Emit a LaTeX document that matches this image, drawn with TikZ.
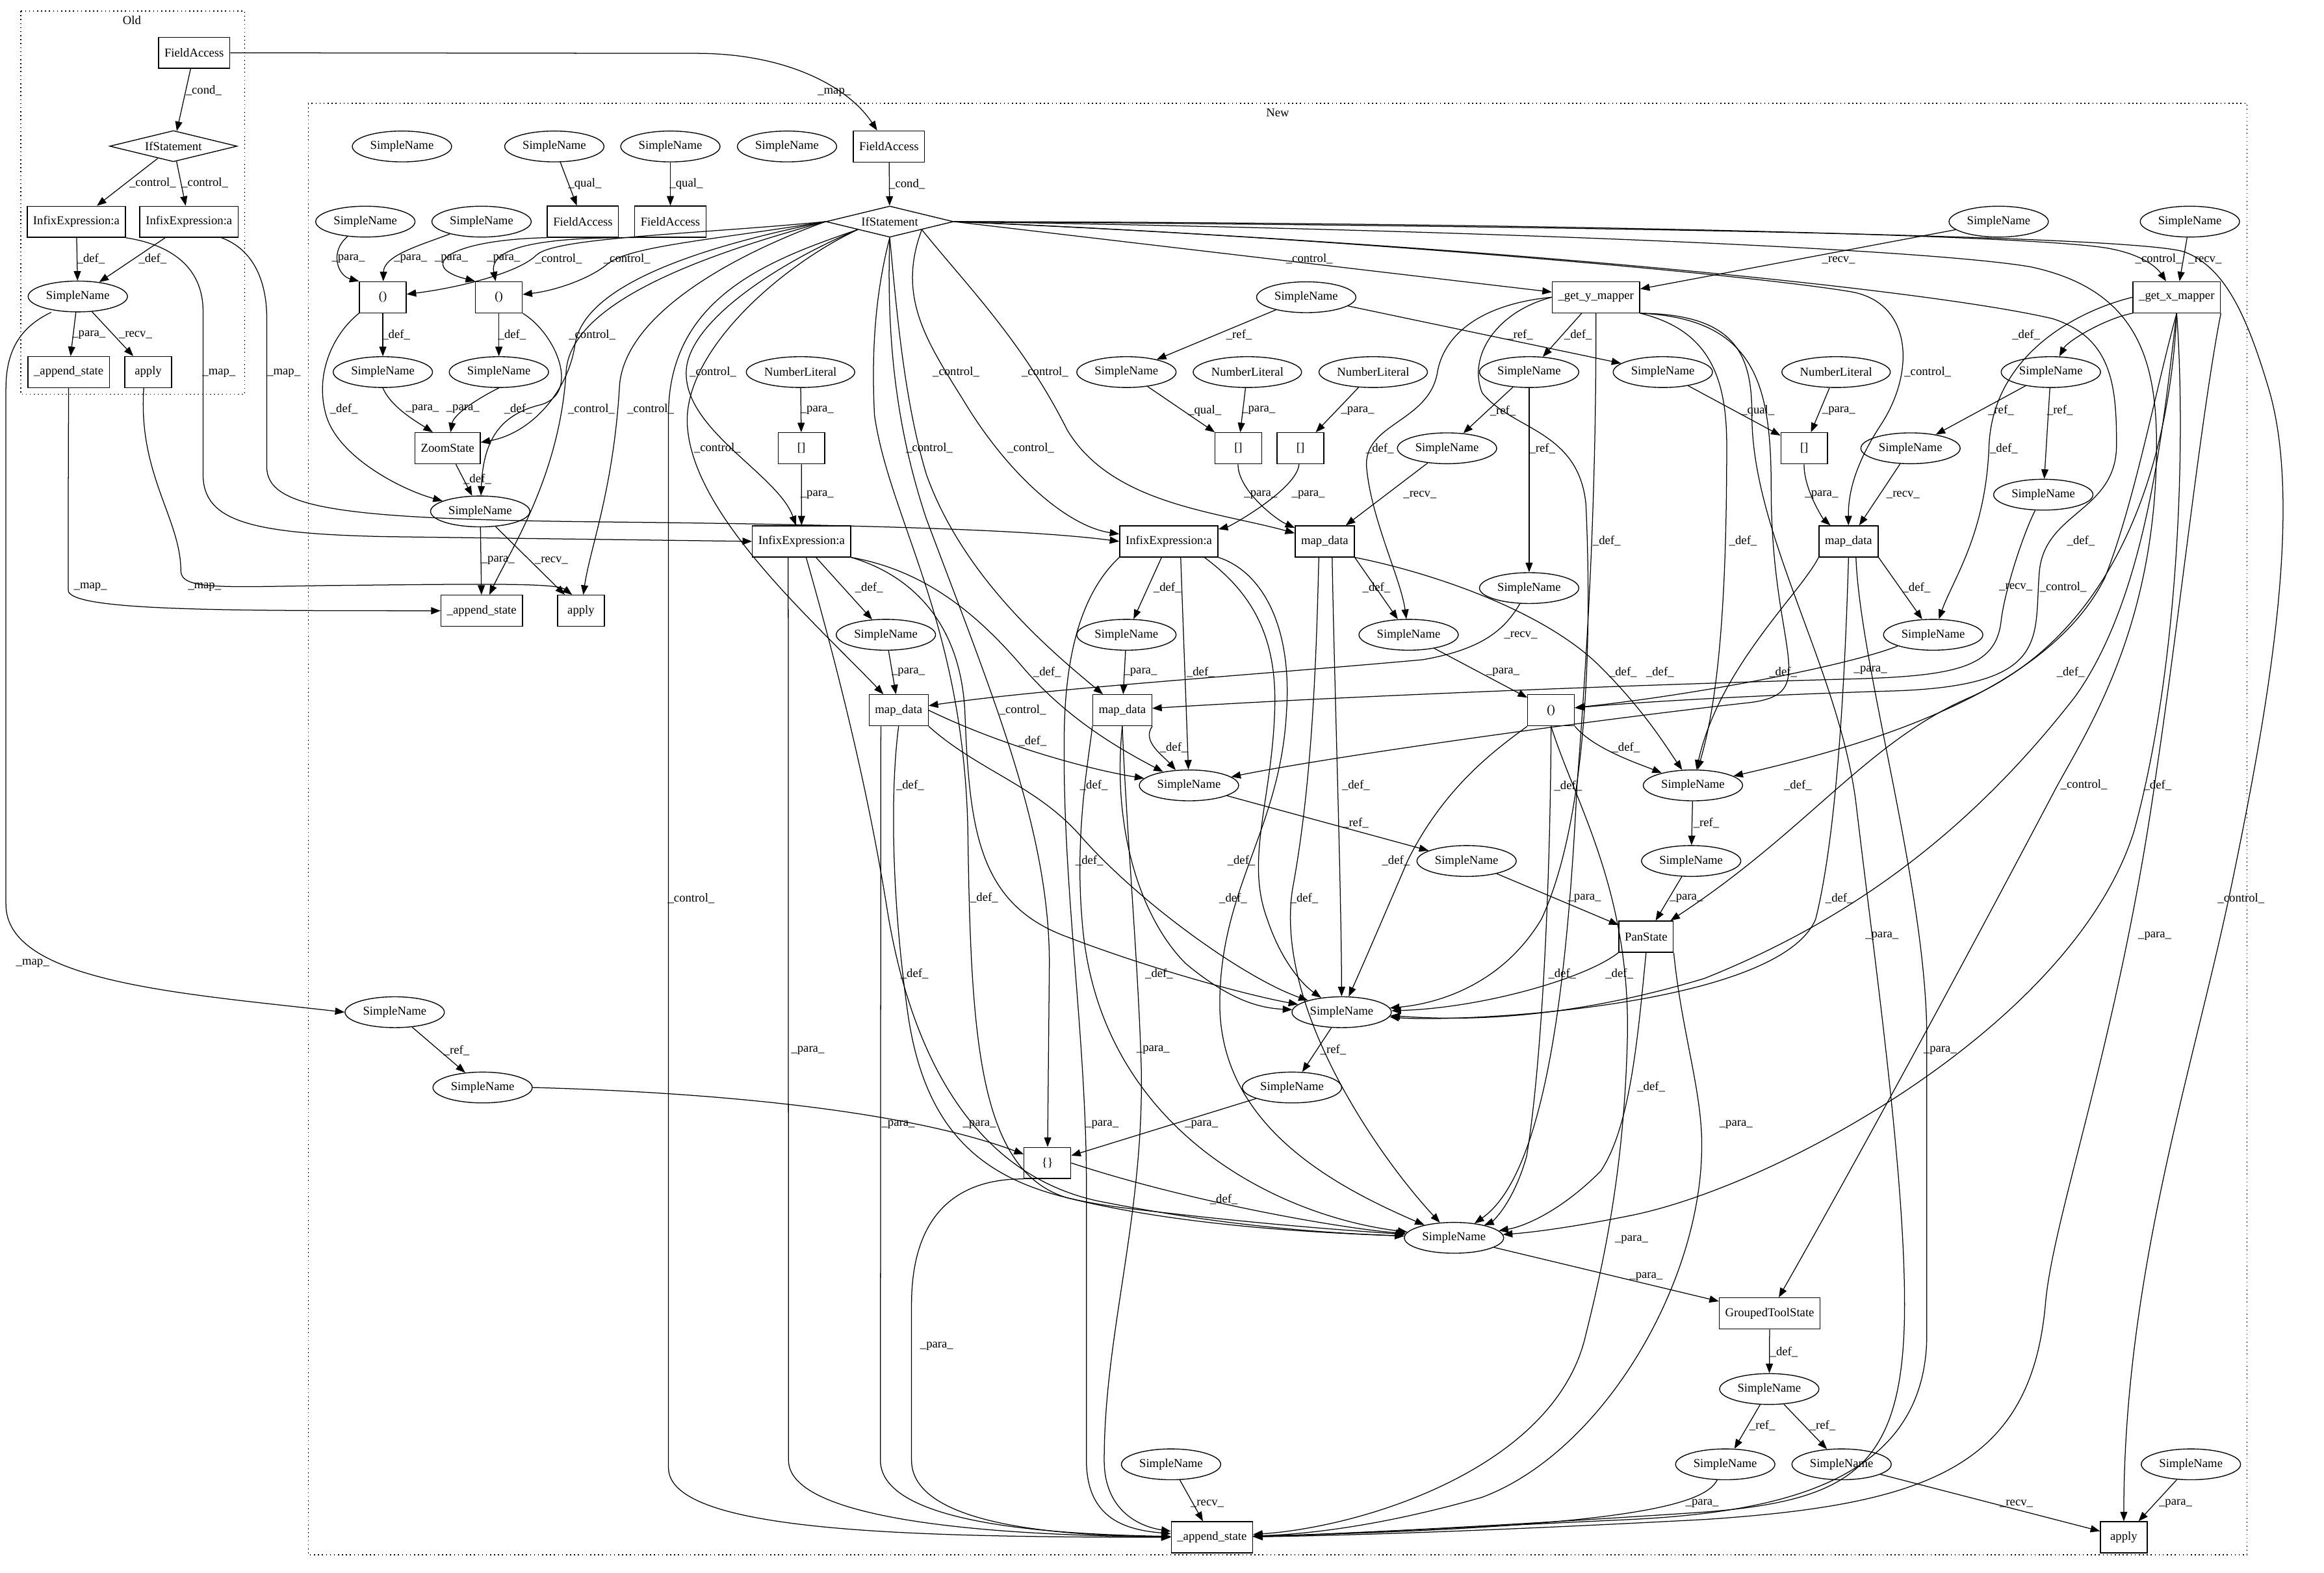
\documentclass[tikz,border=0pt]{standalone}
\usepackage{fontspec}
\setmainfont{Liberation Serif}
\usetikzlibrary{shapes.geometric,arrows.meta}
\begin{document}
\begin{tikzpicture}[x=1pt,y=-1pt,
  every node/.style={font=\fontsize{8.2}{9.5}\selectfont},
  sn/.style={ellipse,draw,line width=0.6pt,inner xsep=1.5pt,inner ysep=0pt,minimum width=67pt,minimum height=20.8pt},
  bx/.style={rectangle,draw,line width=0.6pt,inner xsep=4pt,inner ysep=0pt,minimum width=31.5pt,minimum height=21pt},
  dm/.style={diamond,draw,line width=0.6pt,aspect=4,inner sep=0pt,minimum width=86pt,minimum height=21pt},
  e/.style={draw,line width=0.55pt,-{Triangle[length=6.4pt,width=4.8pt]}},
  lbl/.style={inner sep=0pt},
  cl/.style={draw,dotted,line width=0.7pt}
]
\useasboundingbox (0,0) rectangle (1568,1061);
\fill[white] (0,0) rectangle (1568,1061);

% clusters
\draw[cl] (14,7.5) rectangle (165,266);
\node (tOld) at (89,13.5) {Old};
\draw[cl] (208,69.7) rectangle (1516,1048.7);
\node (tNew) at (862,76) {New};

% ---------------- Old nodes
\node[bx] (oFA) at (131,35.6) {FieldAccess};
\node[dm] (oIF) at (117,98.6) {IfStatement};
\node[bx] (oIL) at (51.5,149.6) {InfixExpression:a};
\node[bx] (oIR) at (127.5,149.6) {InfixExpression:a};
\node[sn] (oSN) at (52.5,200) {SimpleName};
\node[bx] (oAS) at (46.3,251) {\_append\_state};
\node[bx] (oAP) at (100,251) {apply};

% ---------------- New nodes
\node[sn] (nS1) at (271.2,98.8) {SimpleName};
\node[sn] (nS2) at (374,98.8) {SimpleName};
\node[sn] (nS3) at (452.3,98.8) {SimpleName};
\node[sn] (nS4) at (531,98.8) {SimpleName};
\node[bx] (nFA) at (599.8,98.8) {FieldAccess};

\node[dm] (nIF) at (600.3,149.5) {IfStatement};
\node[sn] (nP1) at (246.5,149.5) {SimpleName};
\node[sn] (nP2) at (324.9,149.5) {SimpleName};
\node[bx] (nFA1) at (393.3,149.5) {FieldAccess};
\node[bx] (nFA2) at (452.3,149.5) {FieldAccess};
\node[sn] (nRY) at (1348.5,149.5) {SimpleName};
\node[sn] (nRX) at (1477.5,149.5) {SimpleName};

\node[bx] (nC1) at (258.3,200.5) {()};
\node[bx] (nC2) at (336.6,200.5) {()};
\node[sn] (nR) at (881.3,200.5) {SimpleName};
\node[bx] (nGY) at (1076.8,200.5) {\_get\_y\_mapper};
\node[bx] (nGX) at (1468.6,200.5) {\_get\_x\_mapper};

\node[sn] (nD1) at (258.3,251) {SimpleName};
\node[sn] (nD2) at (336.6,251) {SimpleName};
\node[sn] (nNL1) at (540.1,251) {NumberLiteral};
\node[sn] (nQ1) at (760,251) {SimpleName};
\node[sn] (nNL2) at (841.6,251) {NumberLiteral};
\node[sn] (nNL3) at (926.5,251) {NumberLiteral};
\node[sn] (nY1) at (1031.7,251) {SimpleName};
\node[sn] (nQ2) at (1121.9,251) {SimpleName};
\node[sn] (nNL4) at (1238.8,251) {NumberLiteral};
\node[sn] (nX1) at (1383.7,251) {SimpleName};

\node[bx] (nZS) at (302,302.4) {ZoomState};
\node[bx] (nB1) at (540.7,302.4) {[]};
\node[bx] (nB2) at (835.5,302.4) {[]};
\node[bx] (nB3) at (877.4,302.4) {[]};
\node[sn] (nY2) at (976.3,302.4) {SimpleName};
\node[bx] (nB4) at (1217.3,302.4) {[]};
\node[sn] (nX2) at (1289,302.4) {SimpleName};

\node[sn] (nX3) at (1378.6,333.7) {SimpleName};
\node[sn] (nZ) at (324,345) {SimpleName};

\node[bx] (nIL) at (540.8,365.2) {InfixExpression:a};
\node[bx] (nIR) at (788.6,365.2) {InfixExpression:a};
\node[bx] (nMC) at (893.8,365.2) {map\_data};
\node[bx] (nMD) at (1247.2,365.2) {map\_data};

\node[sn] (nY3) at (1031.7,396.7) {SimpleName};
\node[bx] (nAS1) at (325,412) {\_append\_state};
\node[bx] (nAP1) at (392,412) {apply};

\node[sn] (nE1) at (597.7,428.2) {SimpleName};
\node[sn] (nE2) at (760,428.2) {SimpleName};
\node[sn] (nE3) at (950.4,428.2) {SimpleName};
\node[sn] (nE4) at (1304.3,428.2) {SimpleName};

\node[bx] (nMA) at (606.3,479.1) {map\_data};
\node[bx] (nMB) at (757.2,479.1) {map\_data};
\node[bx] (nPar) at (1046.5,479.1) {()};

\node[sn] (nC) at (802.2,529.8) {SimpleName};
\node[sn] (nD) at (1142.2,529.8) {SimpleName};
\node[sn] (nE) at (989.5,580.8) {SimpleName};
\node[sn] (nF) at (1141,580.8) {SimpleName};
\node[bx] (nPan) at (1110.6,631.8) {PanState};
\node[sn] (nJ) at (266.3,682.8) {SimpleName};
\node[sn] (nG) at (905.2,682.8) {SimpleName};
\node[sn] (nK) at (325.6,733.6) {SimpleName};
\node[sn] (nH) at (871.7,733.6) {SimpleName};
\node[bx] (nBr) at (706.7,784.5) {\{\}};
\node[sn] (nI) at (981,835) {SimpleName};
\node[bx] (nGT) at (1194,886) {GroupedToolState};
\node[sn] (nL) at (1193.7,937) {SimpleName};
\node[sn] (nO) at (790.1,987.8) {SimpleName};
\node[sn] (nM) at (1164,987.8) {SimpleName};
\node[sn] (nN) at (1242.5,987.8) {SimpleName};
\node[sn] (nP) at (1478.2,987.8) {SimpleName};
\node[bx] (nAS2) at (817.7,1037) {\_append\_state};
\node[bx] (nAP2) at (1432.9,1037) {apply};

% ================= Old edges
\draw[e] (oFA) -- (oIF) node[lbl] at (137.4,60.9) {\_cond\_};
\draw[e] (oIF) -- (oIL) node[lbl] at (103,123.5) {\_control\_};
\draw[e] (oIF) -- (oIR) node[lbl] at (138.2,123.5) {\_control\_};
\draw[e] (oIL) -- (oSN) node[lbl] at (61.4,174.5) {\_def\_};
\draw[e] (oIR) -- (oSN) node[lbl] at (103,174.5) {\_def\_};
\draw[e] (oSN) -- (oAS) node[lbl] at (60,225.9) {\_para\_};
\draw[e] (oSN) -- (oAP) node[lbl] at (91.4,225.9) {\_recv\_};

% map edges
\draw[e] (oFA.east) -- (470,36) .. controls (530,36) and (572,58) .. ([xshift=-8pt]nFA.north) node[lbl] at (562.9,62.1) {\_map\_};
\draw[e] (oIL.south east) .. controls (115,165) and (137,180) .. (137,210) -- (137,320) .. controls (137,352) and (170,360) .. (260,362) -- (nIL.west) node[lbl] at (147.7,251.5) {\_map\_};
\draw[e] ([xshift=22pt]oIR.south) .. controls (170,168) and (180,188) .. (180,215) -- (180,315) .. controls (180,343) and (230,350) .. (400,352) .. controls (600,354) and (700,358) .. (nIR.west) node[lbl] at (191.5,251.5) {\_map\_};
\draw[e] ([xshift=-18pt]oSN.south) .. controls (15,220) and (4,235) .. (4,262) -- (4,610) .. controls (4,662) and (120,670) .. (nJ.west) node[lbl] at (22,650) {\_map\_};
\draw[e] (oAS.south) .. controls (46,330) and (46,385) .. (46,398) .. controls (46,412) and (150,412) .. (nAS1.west) node[lbl] at (61,396) {\_map\_};
\draw[e] ([xshift=-3pt]oAP.south) .. controls (93,320) and (122,350) .. (122,385) .. controls (122,398) and (150,396) .. (220,395) .. controls (320,394) and (375,393) .. ([xshift=-6pt]nAP1.north) node[lbl] at (138,396) {\_map\_};

% ================= New edges: top left
\draw[e] (nS2) -- (nFA1) node[lbl] at (394.6,124.2) {\_qual\_};
\draw[e] (nS3) -- (nFA2) node[lbl] at (463,124.2) {\_qual\_};
\draw[e] (nFA) -- (nIF) node[lbl] at (612,124.2) {\_cond\_};
\draw[e] (nP1) .. controls (222,170) and (228,186) .. (nC1.north west) node[lbl] at (235,174.5) {\_para\_};
\draw[e] (nP2) .. controls (285,165) and (259,172) .. (nC1) node[lbl] at (277,174.5) {\_para\_};
\draw[e] (nFA1.south west) .. controls (300,162) and (282,180) .. (nC2.north west) node[lbl] at (304.5,174.5) {\_para\_};
\draw[e] (nFA2.south west) .. controls (360,160) and (330,168) .. (nC2) node[lbl] at (339.7,174.5) {\_para\_};
\draw[e] (nC1) -- (nD1) node[lbl] at (267.3,225.8) {\_def\_};
\draw[e] (nC2) -- (nD2) node[lbl] at (345.5,225.8) {\_def\_};
\draw[e] (nC1.south west) .. controls (225,225) and (212,252) .. (220,280) .. controls (228,308) and (270,330) .. (nZ) node[lbl] at (232,276) {\_def\_};
\draw[e] (nC2.south east) .. controls (375,225) and (392,265) .. (365,273) .. controls (335,280) and (326,300) .. (nZ) node[lbl] at (349.5,276) {\_def\_};
\draw[e] (nD1.south) .. controls (264,275) and (282,285) .. ([xshift=-10pt]nZS.north) node[lbl] at (284.9,276) {\_para\_};
\draw[e] (nD2.south) .. controls (320,270) and (306,280) .. ([xshift=2pt]nZS.north) node[lbl] at (312.3,276) {\_para\_};
\draw[e] (nZS) -- (nZ) node[lbl] at (322,323) {\_def\_};
\draw[e] (nZ) -- (nAS1) node[lbl] at (336,378) {\_para\_};
\draw[e] (nZ) -- (nAP1) node[lbl] at (372,378) {\_recv\_};

% IfStatement control edges
\draw[e] (nIF.west) .. controls (470,158) and (375,160) .. (362,172) .. controls (350,184) and (310,194) .. (nC1) node[lbl] at (376.9,174.5) {\_control\_};
\draw[e] (nIF.west) .. controls (480,162) and (425,166) .. (410,178) .. controls (398,188) and (375,196) .. (nC2) node[lbl] at (423,174.5) {\_control\_};
\draw[e] (nIF.west) .. controls (480,165) and (395,190) .. (388,232) .. controls (384,262) and (360,292) .. (nZS) node[lbl] at (399.5,226) {\_control\_};
\draw[e] (nIF.west) .. controls (490,168) and (386,200) .. (382,250) .. controls (378,320) and (345,370) .. (nAS1) node[lbl] at (399,276) {\_control\_};
\draw[e] (nIF.west) .. controls (500,170) and (422,210) .. (418,260) .. controls (414,330) and (398,370) .. (nAP1) node[lbl] at (439,276) {\_control\_};
\draw[e] (nIF.south west) .. controls (530,175) and (465,215) .. (463,250) .. controls (461,290) and (525,320) .. (nIL) node[lbl] at (481,251) {\_control\_};
\draw[e] (nIF.south west) .. controls (525,180) and (458,240) .. (464,290) .. controls (470,350) and (550,420) .. (nMA) node[lbl] at (484,302) {\_control\_};
\draw[e] (nIF.south west) .. controls (520,175) and (451,200) .. (451,280) -- (451,990) .. controls (451,1032) and (600,1037) .. (nAS2) node[lbl] at (466.3,606) {\_control\_};
\draw[e] (nIF.south) .. controls (590,200) and (588,240) .. (590,280) .. controls (600,350) and (650,420) .. (653,560) .. controls (655,700) and (660,790) .. (720,808) .. controls (800,828) and (900,832) .. (nI) node[lbl] at (627,302) {\_control\_};
\draw[e] (nIF.south) .. controls (598,230) and (605,290) .. (625,350) .. controls (670,470) and (708,560) .. (708,650) -- (nBr) node[lbl] at (690,479) {\_control\_};
\draw[e] (nIF.south) .. controls (605,210) and (610,270) .. (625,320) .. controls (650,390) and (710,440) .. (nMB) node[lbl] at (645,251) {\_control\_};
\draw[e] (nIF.south east) .. controls (605,200) and (625,230) .. (650,270) .. controls (680,320) and (720,355) .. (nIR) node[lbl] at (695.4,302.4) {\_control\_};
\draw[e] (nIF.south east) .. controls (650,190) and (690,230) .. (720,290) .. controls (750,340) and (820,345) .. (nMC) node[lbl] at (705,251) {\_control\_};
\draw[e] (nIF.east) -- (nGY) node[lbl] at (883.4,174.5) {\_control\_};
\draw[e] (nIF.east) .. controls (1000,150) and (1380,158) .. (1425,168) .. controls (1445,172) and (1455,180) .. (nGX) node[lbl] at (1456.4,174.5) {\_control\_};
\draw[e] (nIF.east) .. controls (900,160) and (1180,185) .. (1250,197) .. controls (1290,205) and (1292,250) .. (1270,285) .. controls (1250,315) and (1247,335) .. (nMD) node[lbl] at (1300.6,251) {\_control\_};
\draw[e] (nIF.east) .. controls (1000,165) and (1300,195) .. (1385,215) .. controls (1425,228) and (1428,260) .. (1428,300) .. controls (1428,345) and (1380,345) .. (1376,385) .. controls (1372,430) and (1385,462) .. (1280,466) .. controls (1180,469) and (1100,474) .. (nPar) node[lbl] at (1392,396) {\_control\_};
\draw[e] (nIF.east) .. controls (1000,155) and (1300,168) .. (1370,180) .. controls (1440,195) and (1455,240) .. (1455,300) .. controls (1455,420) and (1410,490) .. (1388,530) .. controls (1330,640) and (1260,770) .. (nGT) node[lbl] at (1406,529.5) {\_control\_};
\draw[e] (nIF.east) .. controls (1000,152) and (1440,158) .. (1474,170) .. controls (1500,180) and (1515,210) .. (1530,260) .. controls (1555,340) and (1530,480) .. (1505,600) .. controls (1480,720) and (1433,860) .. (nAP2) node[lbl] at (1512,606) {\_control\_};

% middle upper
\draw[e] (nRY) -- (nGY) node[lbl] at (1240.5,175.4) {\_recv\_};
\draw[e] (nRX) -- (nGX) node[lbl] at (1487.7,175.4) {\_recv\_};
\draw[e] (nR) -- (nQ1) node[lbl] at (836,225.8) {\_ref\_};
\draw[e] (nR) -- (nQ2) node[lbl] at (1025.6,225.8) {\_ref\_};
\draw[e] (nGY) -- (nY1) node[lbl] at (1064.7,225.8) {\_def\_};
\draw[e] (nGX.south west) .. controls (1420,215) and (1395,230) .. (nX1) node[lbl] at (1367,225.8) {\_def\_};
\draw[e] (nY1) -- (nY2) node[lbl] at (1014,277) {\_ref\_};
\draw[e] (nY1) -- (nY3) node[lbl] at (1040.6,302.4) {\_ref\_};
\draw[e] (nX1) -- (nX2) node[lbl] at (1350,276.9) {\_ref\_};
\draw[e] (nX1) -- (nX3) node[lbl] at (1389.8,276.9) {\_ref\_};
\draw[e] (nNL1) -- (nB1) node[lbl] at (551.3,276.9) {\_para\_};
\draw[e] (nB1) -- (nIL) node[lbl] at (551.3,333.7) {\_para\_};
\draw[e] (nQ1) -- (nB2) node[lbl] at (812.8,276.9) {\_qual\_};
\draw[e] (nNL2) -- (nB2) node[lbl] at (849.2,276.9) {\_para\_};
\draw[e] (nNL3) -- (nB3) node[lbl] at (916,277) {\_para\_};
\draw[e] (nQ2) -- (nB4) node[lbl] at (1186,277) {\_qual\_};
\draw[e] (nNL4) -- (nB4) node[lbl] at (1240.6,277) {\_para\_};
\draw[e] (nB2) .. controls (835,330) and (860,350) .. (nMC) node[lbl] at (850.6,333.7) {\_para\_};
\draw[e] (nB3) .. controls (875,330) and (830,355) .. (nIR) node[lbl] at (882.7,333.7) {\_para\_};
\draw[e] (nB4) .. controls (1217,330) and (1230,350) .. (nMD) node[lbl] at (1229,333.7) {\_para\_};
\draw[e] (nY2) -- (nMC) node[lbl] at (958,333.7) {\_recv\_};
\draw[e] (nX2) -- (nMD) node[lbl] at (1284,333.7) {\_recv\_};
\draw[e] (nY3) .. controls (1015,425) and (1000,438) .. (960,445) .. controls (850,455) and (700,465) .. (nMA) node[lbl] at (1026,428.6) {\_recv\_};
\draw[e] (nX3) .. controls (1365,360) and (1352,400) .. (1350,420) .. controls (1346,450) and (1320,456) .. (1250,458) .. controls (1100,462) and (900,470) .. (nMB) node[lbl] at (1360,396) {\_recv\_};

% defs from expression nodes
\draw[e] (nIL) -- (nE1) node[lbl] at (586.3,396.3) {\_def\_};
\draw[e] (nIR) -- (nE2) node[lbl] at (787.6,396.3) {\_def\_};
\draw[e] (nMC.south east) -- (nE3) node[lbl] at (928.7,396.3) {\_def\_};
\draw[e] (nMD.south east) -- (nE4) node[lbl] at (1293,396.3) {\_def\_};
\draw[e] (nE1) -- (nMA) node[lbl] at (612.8,453.4) {\_para\_};
\draw[e] (nE2) -- (nMB) node[lbl] at (769.5,453.4) {\_para\_};
\draw[e] (nE3) -- (nPar) node[lbl] at (1014,453.4) {\_para\_};
\draw[e] (nE4.south west) .. controls (1250,448) and (1150,468) .. (nPar) node[lbl] at (1262,452) {\_para\_};

\draw[e] (nGY.west) .. controls (1000,205) and (975,225) .. (970,250) .. controls (965,285) and (920,285) .. (922,315) .. controls (925,350) and (945,390) .. (nE3) node[lbl] at (931,302.4) {\_def\_};
\draw[e] (nGX.west) .. controls (1400,210) and (1345,240) .. (1342,300) .. controls (1340,360) and (1318,390) .. (nE4) node[lbl] at (1352,302.4) {\_def\_};

% nIL outgoing
\draw[e] (nIL.south east) .. controls (625,385) and (660,415) .. (690,450) .. controls (720,485) and (755,505) .. (nC) node[lbl] at (706.5,453.4) {\_def\_};
\draw[e] (nIL.south east) .. controls (615,388) and (648,420) .. (651,480) .. controls (654,560) and (660,610) .. (720,632) .. controls (780,655) and (845,672) .. (nG) node[lbl] at (664,605.6) {\_def\_};
\draw[e] (nIL) .. controls (565,450) and (585,530) .. (598,610) .. controls (612,700) and (650,790) .. (740,810) .. controls (830,828) and (900,832) .. (nI) node[lbl] at (617,657) {\_def\_};
\draw[e] ([xshift=-9pt]nIL.south) -- (532,985) .. controls (532,1030) and (700,1036) .. (nAS2) node[lbl] at (545,708.5) {\_para\_};

% nMA outgoing
\draw[e] (nMA.east) .. controls (680,505) and (740,520) .. (nC) node[lbl] at (696.7,500) {\_def\_};
\draw[e] (nMA.south east) .. controls (660,520) and (700,530) .. (730,565) .. controls (770,610) and (840,660) .. (nG) node[lbl] at (735,580.6) {\_def\_};
\draw[e] (nMA.south) .. controls (601,530) and (601,600) .. (612,680) .. controls (625,780) and (680,805) .. (760,815) .. controls (850,826) and (910,830) .. (nI) node[lbl] at (614,529.6) {\_def\_};
\draw[e] ([xshift=-12pt]nMA.south) -- (594,985) .. controls (594,1030) and (720,1035) .. (nAS2) node[lbl] at (606,758.8) {\_para\_};

% nIR outgoing
\draw[e] ([xshift=8pt]nIR.south) -- (nC) node[lbl] at (810,453.4) {\_def\_};
\draw[e] ([xshift=24pt]nIR.south) .. controls (845,400) and (862,430) .. (860,480) .. controls (858,540) and (840,580) .. (855,620) .. controls (865,650) and (880,665) .. (nG) node[lbl] at (837.5,580.6) {\_def\_};
\draw[e] (nIR.south east) .. controls (850,385) and (872,420) .. (868,480) .. controls (864,560) and (822,600) .. (823,680) .. controls (825,760) and (900,800) .. (nI) node[lbl] at (832,606) {\_def\_};
\draw[e] (nIR.south west) .. controls (735,395) and (718,430) .. (718,500) .. controls (717,600) and (733,700) .. (733,800) -- (733,985) .. controls (733,1025) and (760,1032) .. (nAS2) node[lbl] at (810.6,758.8) {\_para\_};

% nMB outgoing
\draw[e] (nMB.south east) .. controls (770,500) and (785,510) .. (nC) node[lbl] at (791.9,504.4) {\_def\_};
\draw[e] (nMB.south) .. controls (750,560) and (770,620) .. (800,650) .. controls (830,675) and (850,680) .. (nG) node[lbl] at (782,657) {\_def\_};
\draw[e] (nMB.south west) .. controls (735,510) and (725,560) .. (730,620) .. controls (740,760) and (860,820) .. (nI) node[lbl] at (738,529.7) {\_def\_};
\draw[e] (nMB.south) .. controls (760,560) and (768,650) .. (770,720) .. controls (772,820) and (745,900) .. (745,985) .. controls (745,1020) and (770,1030) .. (nAS2) node[lbl] at (778,708) {\_para\_};

% nMC outgoing
\draw[e] (nMC.south east) .. controls (960,385) and (1040,410) .. (1080,450) .. controls (1110,480) and (1125,505) .. (nD) node[lbl] at (1095,453.4) {\_def\_};
\draw[e] ([xshift=5pt]nMC.south) .. controls (900,450) and (905,600) .. (nG) node[lbl] at (914.8,529.8) {\_def\_};
\draw[e] ([xshift=-4pt]nMC.south) .. controls (888,450) and (885,530) .. (872,600) .. controls (860,680) and (930,780) .. (nI) node[lbl] at (880,606) {\_def\_};

% nMD outgoing
\draw[e] (nMD.south west) .. controls (1215,400) and (1160,450) .. (nD) node[lbl] at (1203,453.4) {\_def\_};
\draw[e] (nMD.south) .. controls (1245,450) and (1240,560) .. (1225,620) .. controls (1200,680) and (980,690) .. (nG) node[lbl] at (1241,606) {\_def\_};
\draw[e] ([xshift=5pt]nMD.south) .. controls (1255,450) and (1300,600) .. (1300,700) -- (1300,900) .. controls (1300,1000) and (1200,1020) .. (1100,1025) .. controls (950,1032) and (880,1036) .. (nAS2) node[lbl] at (1309,708.5) {\_para\_};

% nGY outgoing
\draw[e] (nGY.south) .. controls (1077,350) and (1070,450) .. (1064,530) .. controls (1058,650) and (1045,790) .. (nI) node[lbl] at (1084,365) {\_def\_};
\draw[e] (nGY.south east) .. controls (1150,222) and (1165,250) .. (1165,300) .. controls (1165,400) and (1160,470) .. (nD) node[lbl] at (1176,365) {\_def\_};
\draw[e] (nGY.west) .. controls (1010,210) and (990,240) .. (1000,265) .. controls (1020,290) and (1065,290) .. (1070,340) .. controls (1075,450) and (1068,560) .. (1040,620) .. controls (1010,670) and (960,678) .. (nG) node[lbl] at (1054,657) {\_def\_};
\draw[e] (nGY.south east) .. controls (1185,215) and (1195,260) .. (1195,330) .. controls (1195,440) and (1230,468) .. (1180,474) .. controls (1080,485) and (900,510) .. (nC) node[lbl] at (1120,453.4) {\_def\_};
\draw[e] (nGY.south east) .. controls (1172,212) and (1182,240) .. (1182,280) .. controls (1182,360) and (1240,450) .. (1252,540) .. controls (1265,650) and (1285,790) .. (1285,880) .. controls (1285,990) and (1250,1012) .. (1150,1020) .. controls (1000,1030) and (900,1035) .. (nAS2) node[lbl] at (1269.7,631.3) {\_para\_};

% nGX outgoing
\draw[e] (nGX.south) .. controls (1455,260) and (1440,340) .. (1420,390) .. controls (1380,470) and (1250,505) .. (nD) node[lbl] at (1404,365) {\_def\_};
\draw[e] (nGX.south) .. controls (1460,280) and (1450,400) .. (1400,470) .. controls (1330,560) and (1250,620) .. (1150,660) .. controls (1050,690) and (980,688) .. (nG) node[lbl] at (1397,453.4) {\_def\_};
\draw[e] (nGX.south) .. controls (1475,300) and (1470,450) .. (1440,560) .. controls (1400,690) and (1200,800) .. (1100,820) .. controls (1050,830) and (1025,832) .. (nI) node[lbl] at (1455.7,529.8) {\_def\_};
\draw[e] (nGX.south) .. controls (1465,290) and (1440,420) .. (1330,470) .. controls (1260,500) and (1220,560) .. (nPan) node[lbl] at (1213,529.6) {\_def\_};
\draw[e] (nGX.south east) .. controls (1485,280) and (1470,420) .. (1455,520) .. controls (1430,700) and (1385,820) .. (1380,880) .. controls (1370,990) and (1300,1015) .. (1150,1025) .. controls (1000,1033) and (900,1036) .. (nAS2) node[lbl] at (1453.8,631.3) {\_para\_};

% nPar outgoing
\draw[e] (nPar.south east) .. controls (1075,505) and (1105,515) .. (nD) node[lbl] at (1097,504.3) {\_def\_};
\draw[e] (nPar.south west) .. controls (1010,505) and (975,530) .. (950,580) .. controls (935,615) and (920,650) .. (nG) node[lbl] at (941.8,580.6) {\_def\_};
\draw[e] (nPar.south) .. controls (1046,600) and (1040,720) .. (1030,780) .. controls (1020,815) and (1005,825) .. (nI) node[lbl] at (1058,530) {\_def\_};
\draw[e] (nPar.south) .. controls (1062,540) and (1100,600) .. (1098,700) .. controls (1096,780) and (1085,840) .. (1070,900) .. controls (1050,990) and (920,1030) .. (nAS2) node[lbl] at (1100.8,836) {\_para\_};

% lower middle
\draw[e] (nC) -- (nE) node[lbl] at (914.6,555.3) {\_ref\_};
\draw[e] (nD) -- (nF) node[lbl] at (1151.2,555.3) {\_ref\_};
\draw[e] (nE) -- (nPan) node[lbl] at (1069,606) {\_para\_};
\draw[e] (nF) -- (nPan) node[lbl] at (1137.8,606) {\_para\_};
\draw[e] (nPan.south west) .. controls (1070,660) and (1000,680) .. (nG) node[lbl] at (1092.5,657) {\_def\_};
\draw[e] (nPan.south) .. controls (1105,700) and (1100,760) .. (1080,790) .. controls (1050,820) and (1025,828) .. (nI) node[lbl] at (1114,733) {\_def\_};
\draw[e] (nPan.south east) .. controls (1135,700) and (1150,740) .. (1148,780) .. controls (1145,870) and (1080,980) .. (1000,1010) .. controls (930,1030) and (880,1035) .. (nAS2) node[lbl] at (1171.3,758.8) {\_para\_};
\draw[e] (nG) -- (nH) node[lbl] at (899.5,708) {\_ref\_};
\draw[e] (nH) -- (nBr) node[lbl] at (743.5,758.8) {\_para\_};
\draw[e] (nJ) -- (nK) node[lbl] at (308,708.5) {\_ref\_};
\draw[e] (nK.east) .. controls (450,736) and (600,745) .. (nBr) node[lbl] at (660.8,758.8) {\_para\_};
\draw[e] (nBr.east) .. controls (800,810) and (900,828) .. (nI) node[lbl] at (825.7,809.2) {\_def\_};
\draw[e] (nBr.south west) .. controls (650,795) and (615,815) .. (615,880) -- (615,985) .. controls (615,1030) and (720,1036) .. (nAS2) node[lbl] at (632,908) {\_para\_};
\draw[e] (nI) -- (nGT) node[lbl] at (1110.6,861) {\_para\_};
\draw[e] (nGT) -- (nL) node[lbl] at (1203.6,912) {\_def\_};
\draw[e] (nL) -- (nM) node[lbl] at (1189,961.8) {\_ref\_};
\draw[e] (nL) -- (nN) node[lbl] at (1229.7,961.8) {\_ref\_};
\draw[e] (nM) .. controls (1150,1015) and (1100,1030) .. (nAS2) node[lbl] at (1148.4,1014.4) {\_para\_};
\draw[e] (nO) -- (nAS2) node[lbl] at (814.5,1014.4) {\_recv\_};
\draw[e] (nN) -- (nAP2) node[lbl] at (1360.4,1014.4) {\_recv\_};
\draw[e] (nP) -- (nAP2) node[lbl] at (1467.8,1014.4) {\_para\_};
\end{tikzpicture}
\end{document}
